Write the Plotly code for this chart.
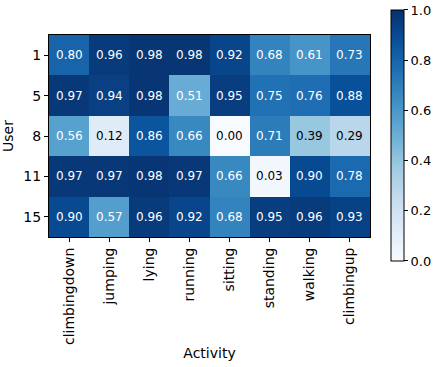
import plotly.graph_objects as go
import plotly.colors as pc

# Activities (columns) and users (rows)
activities = ["climbingdown", "jumping", "lying", "running", "sitting", "standing", "walking", "climbingup"]
users = ["1", "5", "8", "11", "15"]

# Per-user accuracy for each activity
user_1 = [0.80, 0.96, 0.98, 0.98, 0.92, 0.68, 0.61, 0.73]
user_5 = [0.97, 0.94, 0.98, 0.51, 0.95, 0.75, 0.76, 0.88]
user_8 = [0.56, 0.12, 0.86, 0.66, 0.00, 0.71, 0.39, 0.29]
user_11 = [0.97, 0.97, 0.98, 0.97, 0.66, 0.03, 0.90, 0.78]
user_15 = [0.90, 0.57, 0.96, 0.92, 0.68, 0.95, 0.96, 0.93]

z = [user_1, user_5, user_8, user_11, user_15]

font = "DejaVu Sans"

fig = go.Figure(data=go.Heatmap(
    z=z,
    x=activities,
    y=users,
    colorscale=pc.sequential.Blues,
    zmin=0, zmax=1,
    colorbar=dict(
        thickness=13, len=251, lenmode="pixels",
        x=1.065, xanchor="left", y=0.5025, yanchor="middle",
        xpad=0, ypad=0,
        outlinecolor="black", outlinewidth=1,
        tickvals=[0, 0.2, 0.4, 0.6, 0.8, 1.0],
        ticktext=["0.0", "0.2", "0.4", "0.6", "0.8", "1.0"],
        ticks="outside", ticklen=4, tickcolor="black",
        tickfont=dict(family=font, size=13, color="black"),
    ),
    hoverongaps=False,
))

# Cell labels, white on dark cells and black on light cells
# (positions given as category indices, since the user ids look numeric)
annotations = []
for i, vals in enumerate(z):
    for j, v in enumerate(vals):
        annotations.append(dict(
            x=j, y=i, text=f"{v:.2f}", showarrow=False,
            font=dict(family=font, size=12, color="white" if v > 0.5 else "black"),
        ))

fig.update_layout(
    width=436, height=367,
    margin=dict(l=49, r=66, t=35, b=130, autoexpand=False),
    plot_bgcolor="white", paper_bgcolor="white",
    annotations=annotations,
    font=dict(family=font, color="black"),
    xaxis=dict(
        type="category", automargin=False,
        title=dict(text="Activity", font=dict(family=font, size=14), standoff=4),
        tickangle=-90, tickfont=dict(family=font, size=14),
        ticks="outside", ticklen=4, tickcolor="black",
        showline=True, linecolor="black", linewidth=1, mirror=True,
        showgrid=False,
    ),
    yaxis=dict(
        type="category", automargin=False,
        title=dict(text="User", font=dict(family=font, size=14), standoff=8),
        autorange="reversed", tickfont=dict(family=font, size=14),
        ticks="outside", ticklen=4, tickcolor="black",
        showline=True, linecolor="black", linewidth=1, mirror=True,
        showgrid=False,
    ),
)

# drop the page's default body margin so the figure fills the window
fig.write_html("out.html", config={"displayModeBar": False},
               post_script="document.body.style.margin='0';")
